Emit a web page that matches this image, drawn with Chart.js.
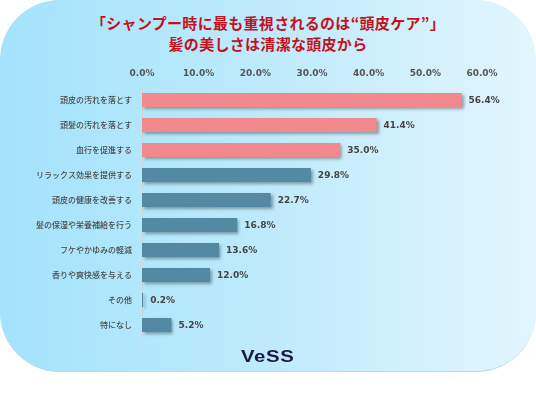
<!DOCTYPE html>
<html>
<head>
<meta charset="utf-8">
<script src="https://cdn.jsdelivr.net/npm/chart.js@4/dist/chart.umd.min.js"></script>
<style>
  html, body { margin: 0; padding: 0; background: #fff; }
  #wrap { position: relative; width: 536px; height: 396px; overflow: hidden; }
  #panel {
    position: absolute; left: 0; top: 0; width: 536px; height: 372px;
    border-radius: 60px;
    background: linear-gradient(to right, #a3e3fb 0%, #bfeafc 50%, #e2f6fd 100%);
    border-bottom: 1px solid #b6dbe8;
    box-sizing: border-box;
  }
  #title {
    position: absolute; left: 0; top: 12px; width: 536px; text-align: center;
    font: bold 15px/21px "Noto Sans CJK JP", sans-serif;
    color: #c4121c; letter-spacing: 0.3px;
  }
  #chart { position: absolute; left: 0; top: 0; }
  #logo {
    position: absolute; left: 241px; top: 347px;
    font: bold 17px "Liberation Sans", Arial, sans-serif;
    color: #1b1a45; letter-spacing: 0.5px;
    transform: scaleX(1.2); transform-origin: left center;
  }
</style>
</head>
<body>
<div id="wrap">
  <div id="panel"></div>
  <div id="title"></div>
  <canvas id="chart" width="536" height="396"></canvas>
  <div id="logo">VeSS</div>
</div>
<script>
const titleLines = ['「シャンプー時に最も重視されるのは“頭皮ケア”」', '髪の美しさは清潔な頭皮から'];
const categories = [
  '頭皮の汚れを落とす',
  '頭髪の汚れを落とす',
  '血行を促進する',
  'リラックス効果を提供する',
  '頭皮の健康を改善する',
  '髪の保湿や栄養補給を行う',
  'フケやかゆみの軽減',
  '香りや爽快感を与える',
  'その他',
  '特になし'
];
const values = [56.4, 41.4, 35.0, 29.8, 22.7, 16.8, 13.6, 12.0, 0.2, 5.2];
const highlighted = [true, true, true, false, false, false, false, false, false, false];
const axisMax = 60;
const axisStep = 10;

const pink = '#f28a8d';
const teal = '#5489a4';

document.getElementById('title').innerHTML = titleLines.join('<br>');

// soft drop shadow under the bars
const barShadow = {
  id: 'barShadow',
  beforeDatasetDraw(chart) {
    const ctx = chart.ctx;
    ctx.save();
    ctx.shadowColor = 'rgba(0, 0, 0, 0.35)';
    ctx.shadowBlur = 3;
    ctx.shadowOffsetX = 2;
    ctx.shadowOffsetY = 2;
  },
  afterDatasetDraw(chart) {
    chart.ctx.restore();
  }
};

// value labels right of each bar
const valueLabels = {
  id: 'valueLabels',
  afterDatasetsDraw(chart) {
    const ctx = chart.ctx;
    const meta = chart.getDatasetMeta(0);
    ctx.save();
    ctx.font = 'bold 9px "DejaVu Sans", Verdana, sans-serif';
    ctx.fillStyle = '#444';
    ctx.textAlign = 'left';
    ctx.textBaseline = 'middle';
    meta.data.forEach((bar, i) => {
      ctx.fillText(values[i].toFixed(1) + '%', bar.x + 7, bar.y + 1);
    });
    ctx.restore();
  }
};

const ctx = document.getElementById('chart').getContext('2d');
new Chart(ctx, {
  type: 'bar',
  data: {
    labels: categories,
    datasets: [{
      data: values,
      backgroundColor: highlighted.map(h => h ? pink : teal),
      borderWidth: 0,
      barPercentage: 0.56,
      categoryPercentage: 1
    }]
  },
  options: {
    indexAxis: 'y',
    responsive: false,
    animation: false,
    layout: { padding: { left: 0, right: 54, top: 0, bottom: 58.5 } },
    scales: {
      x: {
        position: 'top',
        min: 0,
        max: axisMax,
        afterFit: scale => { scale.height = 87.5; },
        ticks: {
          stepSize: axisStep,
          padding: 8,
          color: '#555',
          font: { family: '"DejaVu Sans", Verdana, sans-serif', size: 9, weight: 'bold' },
          callback: v => v.toFixed(1) + '%'
        },
        grid: { display: false, drawTicks: false },
        border: { display: false }
      },
      y: {
        afterFit: scale => { scale.width = 142; },
        ticks: {
          padding: 10,
          color: '#4a4a4a',
          font: { family: '"Noto Sans CJK JP", sans-serif', size: 8, weight: '500' }
        },
        grid: { display: false, drawTicks: false },
        border: { display: true, color: '#c9d6dc', width: 1 }
      }
    },
    plugins: {
      legend: { display: false },
      tooltip: { enabled: false },
      title: { display: false }
    }
  },
  plugins: [barShadow, valueLabels]
});
</script>
</body>
</html>
